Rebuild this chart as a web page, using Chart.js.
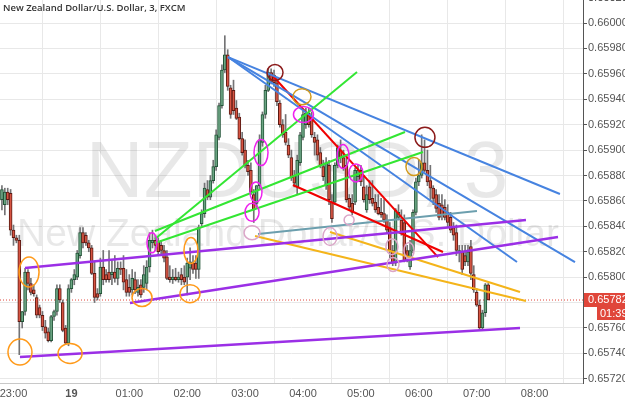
<!DOCTYPE html>
<html>
<head>
<meta charset="utf-8">
<script src="https://cdn.jsdelivr.net/npm/chart.js@4.4.1/dist/chart.umd.min.js"></script>
<style>
html, body { margin: 0; padding: 0; background: #fff; }
#wrap { width: 625px; height: 399px; }
</style>
</head>
<body>
<div id="wrap"><canvas id="myChart" width="625" height="399"></canvas></div>
<script>
// NZDUSD 3 min candles, prices x 100000, first bar 22:48
var startMinute = -12;   // minutes from 23:00
var barMinutes = 3;

var opens = [65861,65857,65867,65866,65837,65831,65829,65765,65773,65804,
  65795,65790,65784,65776,65770,65761,65757,65750,65769,65773,
  65791,65780,65760,65748,65791,65798,65800,65817,65835,65833,
  65827,65823,65803,65787,65787,65808,65802,65804,65802,65804,
  65799,65807,65807,65798,65792,65790,65798,65788,65794,65792,
  65795,65808,65827,65829,65828,65825,65821,65816,65800,65798,
  65800,65798,65802,65800,65800,65807,65811,65811,65806,65842,
  65850,65869,65863,65876,65887,65910,65935,65963,65975,65949,
  65947,65933,65926,65909,65900,65888,65884,65865,65858,65872,
  65906,65928,65947,65961,65959,65953,65937,65920,65914,65904,
  65894,65880,65871,65890,65910,65920,65929,65926,65910,65908,
  65898,65887,65872,65888,65859,65859,65888,65900,65894,65888,
  65862,65858,65859,65879,65884,65871,65853,65871,65862,65859,
  65855,65851,65850,65845,65839,65821,65811,65847,65845,65843,
  65821,65808,65821,65851,65875,65880,65890,65884,65876,65870,
  65865,65858,65857,65855,65851,65847,65839,65835,65819,65820,
  65817,65812,65824,65802,65788,65778,65760,65772,65794];
var highs = [65872,65870,65870,65869,65841,65833,65833,65773,65807,65806,
  65799,65794,65786,65778,65773,65766,65760,65770,65774,65794,
  65794,65782,65762,65794,65799,65806,65821,65839,65839,65835,
  65829,65825,65812,65791,65815,65821,65806,65821,65813,65817,
  65812,65812,65817,65806,65802,65806,65804,65798,65798,65809,
  65813,65835,65837,65833,65831,65829,65825,65821,65809,65806,
  65807,65804,65807,65809,65815,65823,65817,65817,65841,65853,
  65874,65876,65880,65892,65916,65937,65967,65990,65979,65951,
  65955,65939,65929,65914,65908,65892,65890,65869,65872,65912,
  65930,65951,65964,65964,65963,65957,65939,65924,65928,65909,
  65900,65884,65896,65914,65931,65933,65933,65930,65914,65912,
  65902,65892,65894,65892,65865,65890,65904,65908,65900,65894,
  65865,65865,65886,65888,65888,65880,65872,65876,65876,65865,
  65865,65862,65861,65849,65843,65825,65854,65857,65853,65849,
  65825,65829,65853,65878,65892,65912,65908,65900,65888,65872,
  65869,65865,65865,65861,65857,65851,65843,65841,65825,65825,
  65825,65825,65829,65809,65791,65782,65774,65795,65795];
var lows = [65853,65849,65857,65833,65825,65827,65739,65760,65770,65790,
  65786,65785,65768,65768,65758,65752,65749,65749,65766,65770,
  65780,65757,65747,65746,65788,65794,65798,65815,65823,65825,
  65820,65802,65780,65782,65785,65794,65796,65796,65794,65796,
  65794,65802,65790,65785,65785,65786,65787,65785,65784,65788,
  65790,65804,65823,65821,65817,65817,65812,65798,65796,65795,
  65797,65796,65794,65794,65786,65798,65803,65799,65799,65840,
  65847,65861,65861,65874,65884,65908,65933,65961,65947,65925,
  65928,65924,65908,65896,65886,65880,65865,65843,65855,65869,
  65903,65925,65946,65952,65950,65935,65918,65910,65904,65894,
  65876,65871,65865,65888,65908,65917,65918,65910,65896,65892,
  65886,65876,65869,65857,65843,65857,65886,65890,65884,65859,
  65853,65849,65857,65876,65872,65859,65851,65858,65856,65851,
  65849,65847,65843,65835,65815,65809,65809,65845,65833,65812,
  65812,65806,65819,65849,65872,65878,65883,65872,65861,65857,
  65851,65845,65845,65845,65839,65835,65829,65817,65812,65802,
  65809,65809,65798,65788,65777,65758,65758,65769,65782];
var closes = [65869,65867,65861,65837,65831,65829,65765,65773,65804,65795,
  65788,65787,65770,65770,65761,65756,65750,65769,65773,65791,
  65782,65758,65748,65791,65798,65802,65819,65835,65827,65827,
  65823,65803,65784,65784,65808,65798,65798,65798,65804,65799,
  65807,65806,65796,65788,65788,65799,65790,65792,65786,65802,
  65808,65829,65829,65825,65820,65821,65815,65799,65798,65800,
  65798,65800,65798,65796,65811,65812,65806,65806,65839,65850,
  65870,65863,65876,65887,65912,65935,65963,65975,65950,65928,
  65931,65925,65909,65898,65888,65883,65867,65853,65872,65908,
  65928,65947,65961,65954,65953,65938,65920,65912,65906,65896,
  65878,65874,65892,65912,65928,65929,65920,65912,65906,65896,
  65888,65879,65890,65861,65846,65888,65902,65894,65886,65861,
  65855,65851,65884,65884,65875,65861,65865,65861,65858,65853,
  65850,65849,65845,65837,65821,65811,65853,65851,65835,65813,
  65817,65821,65851,65875,65880,65890,65884,65875,65870,65862,
  65854,65847,65849,65847,65843,65837,65833,65821,65821,65806,
  65812,65820,65803,65790,65778,65760,65772,65794,65782];

var priceTicks = [0.65720,0.65740,0.65760,0.65780,0.65800,0.65820,0.65840,0.65860,
  0.65880,0.65900,0.65920,0.65940,0.65960,0.65980,0.66000,0.66020];
var timeTicks = [0,60,120,180,240,300,360,420,480,540];
var timeLabels = ['23:00','19','01:00','02:00','03:00','04:00','05:00','06:00','07:00','08:00'];

var lastPrice = 0.65782;
var countdown = '01:39';

// drawn tools: [minute, price] end points
var trendLines = [
  { color: '#9b2fe6', width: 2.5, from: [11.9, 0.658072], to: [531.1, 0.658450] },
  { color: '#9b2fe6', width: 2.5, from: [120.7, 0.657796], to: [564.3, 0.658316] },
  { color: '#9b2fe6', width: 2.5, from: [6.7, 0.657371], to: [524.9, 0.657600] },
  { color: '#33e633', width: 2, from: [146.6, 0.658300], to: [356.0, 0.659614] },
  { color: '#33e633', width: 2, from: [146.6, 0.658363], to: [405.7, 0.659142] },
  { color: '#33e633', width: 2, from: [146.6, 0.658269], to: [424.4, 0.658985] },
  { color: '#4683e0', width: 2, from: [222.3, 0.659732], to: [566.3, 0.658654] },
  { color: '#4683e0', width: 2, from: [222.3, 0.659732], to: [581.9, 0.658119] },
  { color: '#4683e0', width: 2, from: [222.3, 0.659732], to: [521.8, 0.658119] },
  { color: '#f00000', width: 2, from: [267.9, 0.659591], to: [439.9, 0.658158] },
  { color: '#f00000', width: 2, from: [289.6, 0.658725], to: [445.1, 0.658198] },
  { color: '#f4b41a', width: 2, from: [250.3, 0.658324], to: [531.1, 0.657812] },
  { color: '#f4b41a', width: 2, from: [328.0, 0.658355], to: [524.9, 0.657883] },
  { color: '#6c9fae', width: 2, from: [253.4, 0.658339], to: [480.3, 0.658520] }
];

// hand drawn rings: [minute, price, rx, ry]
var rings = [
  { color: '#ff9a1a', at: [16.1, 0.65804], r: [10, 15] },
  { color: '#ff9a1a', at: [6.7, 0.65741], r: [12, 13] },
  { color: '#ff9a1a', at: [58.6, 0.65740], r: [12, 10] },
  { color: '#ff9a1a', at: [133.2, 0.65784], r: [10, 9] },
  { color: '#ff9a1a', at: [183.9, 0.65821], r: [7, 13] },
  { color: '#ff9a1a', at: [182.9, 0.65787], r: [10, 9] },
  { color: '#d29a1c', at: [299.0, 0.65942], r: [9, 8] },
  { color: '#d29a1c', at: [415.0, 0.65887], r: [8, 9] },
  { color: '#ee22ee', at: [143.5, 0.65827], r: [5, 10] },
  { color: '#ee22ee', at: [256.5, 0.65898], r: [7, 13] },
  { color: '#ee22ee', at: [251.3, 0.65867], r: [6, 10] },
  { color: '#ee22ee', at: [247.2, 0.65851], r: [7, 9] },
  { color: '#ee22ee', at: [300.5, 0.65928], r: [10, 8] },
  { color: '#ee22ee', at: [341.5, 0.65895], r: [6, 12] },
  { color: '#ee22ee', at: [354.9, 0.65882], r: [7, 9] },
  { color: '#8b1a1a', at: [271.0, 0.65961], r: [8, 8] },
  { color: '#8b1a1a', at: [426.4, 0.65910], r: [10, 10] },
  { color: '#dba6c8', at: [247.2, 0.65835], r: [8, 7] },
  { color: '#dba6c8', at: [328.0, 0.65832], r: [7, 9] },
  { color: '#dba6c8', at: [347.8, 0.65845], r: [5, 5] },
  { color: '#dba6c8', at: [392.2, 0.65824], r: [6, 8] },
  { color: '#dba6c8', at: [393.3, 0.65810], r: [6, 7] },
  { color: '#dba6c8', at: [409.9, 0.65821], r: [5, 8] }
];

var UP = '#6ba583', UP_EDGE = '#225437', DOWN = '#d75442', DOWN_EDGE = '#5b1a13', WICK = '#737375';
var axisFont = "'Liberation Sans Narrow', 'Liberation Sans', Arial, sans-serif";

var wickData = [], bodyData = [], bodyFill = [], bodyEdge = [];
for (var i = 0; i < opens.length; i++) {
  var t = startMinute + i * barMinutes;
  var o = opens[i] / 1e5, h = highs[i] / 1e5, l = lows[i] / 1e5, c = closes[i] / 1e5;
  wickData.push({ x: t, y: [l, h] });
  bodyData.push({ x: t, y: [o, c] });
  var up = c >= o;
  bodyFill.push(up ? UP : DOWN);
  bodyEdge.push(up ? UP_EDGE : DOWN_EDGE);
}

var datasets = [];
trendLines.forEach(function (tl) {
  datasets.push({
    type: 'line',
    data: [{ x: tl.from[0], y: tl.from[1] }, { x: tl.to[0], y: tl.to[1] }],
    borderColor: tl.color,
    borderWidth: tl.width,
    pointRadius: 0,
    order: 1
  });
});
datasets.push({
  type: 'line',
  data: [{ x: -14, y: lastPrice }, { x: 590.2, y: lastPrice }],
  borderColor: '#e0463a',
  borderWidth: 1,
  borderDash: [1, 2],
  pointRadius: 0,
  order: 5
});
datasets.push({
  type: 'bar',
  data: wickData,
  backgroundColor: WICK,
  barThickness: 1,
  grouped: false,
  order: 4
});
datasets.push({
  type: 'bar',
  data: bodyData,
  backgroundColor: bodyFill,
  borderColor: bodyEdge,
  borderWidth: 1,
  borderSkipped: false,
  barThickness: 3,
  grouped: false,
  order: 3
});

var decorPlugin = {
  id: 'decor',
  beforeDatasetsDraw: function (chart) {
    var ctx = chart.ctx, a = chart.chartArea;
    ctx.save();
    ctx.beginPath();
    ctx.rect(a.left, a.top, a.right - a.left, a.bottom - a.top);
    ctx.clip();
    ctx.fillStyle = 'rgba(0,0,0,0.09)';
    ctx.textAlign = 'center';
    ctx.textBaseline = 'alphabetic';
    ctx.font = "80px 'Liberation Sans', Arial, sans-serif";
    ctx.fillText('NZDUSD, 3', 297, 197);
    ctx.font = "39px 'Liberation Sans', Arial, sans-serif";
    ctx.fillText('New Zealand Dollar/U.S. Dollar', 288, 246);
    ctx.restore();
  },
  afterDatasetsDraw: function (chart) {
    var ctx = chart.ctx, xs = chart.scales.x, ys = chart.scales.y;
    ctx.save();
    ctx.lineWidth = 1.5;
    rings.forEach(function (r) {
      ctx.strokeStyle = r.color;
      ctx.beginPath();
      ctx.ellipse(xs.getPixelForValue(r.at[0]), ys.getPixelForValue(r.at[1]), r.r[0], r.r[1], 0, 0, Math.PI * 2);
      ctx.stroke();
    });
    ctx.restore();
  },
  afterDraw: function (chart) {
    var ctx = chart.ctx, ys = chart.scales.y, a = chart.chartArea;
    ctx.save();
    ctx.fillStyle = '#333';
    ctx.font = "600 9.5px 'Open Sans', sans-serif";
    ctx.textAlign = 'left';
    ctx.textBaseline = 'alphabetic';
    ctx.fillText('New Zealand Dollar/U.S. Dollar, 3, FXCM', 3, 11);

    // price ticks above the visible range are only half on the canvas
    ctx.font = '11px ' + axisFont;
    ctx.textBaseline = 'middle';
    ctx.fillStyle = '#555';
    priceTicks.forEach(function (v) {
      if (v > ys.max) ctx.fillText(v.toFixed(5), a.right + 5, ys.getPixelForValue(v));
    });

    var py = Math.round(ys.getPixelForValue(lastPrice));
    ctx.fillStyle = '#e0463a';
    ctx.fillRect(a.right + 1, py - 7, 42, 14);
    ctx.fillRect(597, py + 7, 28, 13);
    ctx.fillStyle = '#fff';
    ctx.fillText(lastPrice.toFixed(5), a.right + 5, py);
    ctx.fillText(countdown, 600, py + 14);
    ctx.restore();
  }
};

var chart = new Chart(document.getElementById('myChart'), {
  type: 'bar',
  data: { datasets: datasets },
  options: {
    responsive: false,
    animation: false,
    devicePixelRatio: 1,
    layout: { padding: 0 },
    plugins: { legend: { display: false }, tooltip: { enabled: false } },
    scales: {
      x: {
        type: 'linear',
        min: -14,
        max: 590.2,
        offset: false,
        afterBuildTicks: function (s) { s.ticks = timeTicks.map(function (v) { return { value: v }; }); },
        afterFit: function (s) { s.height = 16; s.paddingLeft = 0; s.paddingRight = 0; },
        grid: { color: '#e8e8e8', drawTicks: false },
        border: { color: '#c8c8c8' },
        ticks: {
          padding: 4,
          maxRotation: 0,
          autoSkip: false,
          color: '#555',
          font: function (c) {
            return { family: axisFont, size: 11, weight: (c.tick && c.tick.value === 60) ? 'bold' : 'normal' };
          },
          callback: function (v) { return timeLabels[timeTicks.indexOf(v)]; }
        }
      },
      y: {
        type: 'linear',
        position: 'right',
        min: 0.657167,
        max: 0.660181,
        afterBuildTicks: function (s) { s.ticks = priceTicks.map(function (v) { return { value: v }; }); },
        afterFit: function (s) { s.width = 42; s.paddingTop = 0; s.paddingBottom = 0; },
        grid: { color: '#e8e8e8', tickLength: 4, tickColor: '#555' },
        border: { color: '#555' },
        ticks: {
          padding: 1,
          autoSkip: false,
          color: '#555',
          font: { family: axisFont, size: 11 },
          callback: function (v) { return v.toFixed(5); }
        }
      }
    }
  },
  plugins: [decorPlugin]
});
</script>
</body>
</html>
